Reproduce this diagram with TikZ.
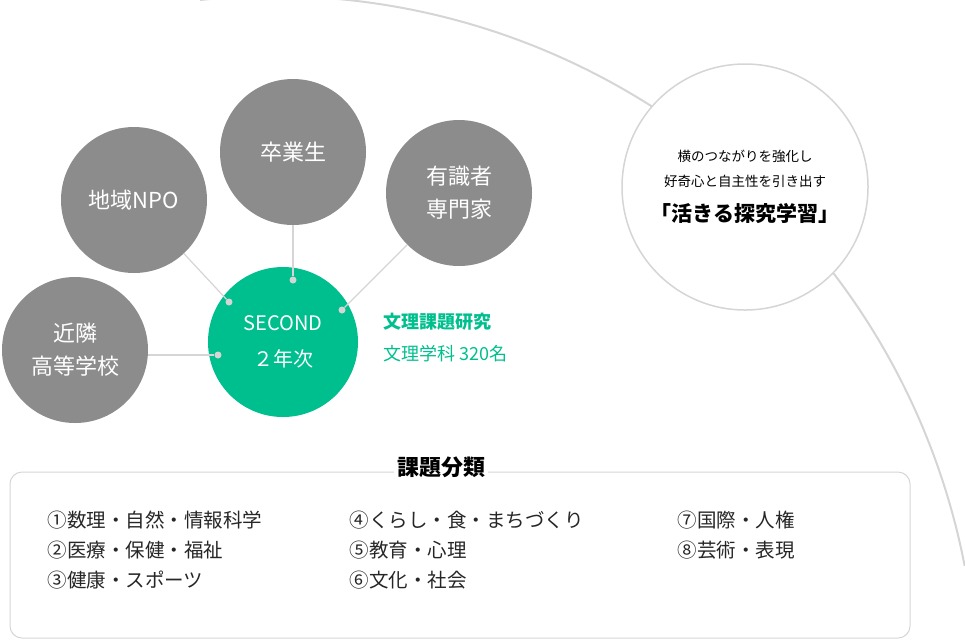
\documentclass[tikz,border=0pt]{standalone}
\usepackage{fontspec}
\setmainfont{Noto Sans CJK JP}
\definecolor{ringgray}{HTML}{8C8C8C}
\definecolor{secgreen}{HTML}{00BF8E}
\definecolor{linegray}{HTML}{D5D5D5}
\begin{document}
\begin{tikzpicture}[x=1pt,y=-1pt,
    partner/.style={circle,fill=ringgray,minimum size=146pt,inner sep=0pt,text=white,font=\fontsize{22}{33}\selectfont,align=center},
    link/.style={linegray,line width=1.2pt},
    tip/.style={circle,fill=linegray,minimum size=7pt,inner sep=0pt},
    item/.style={anchor=west,font=\fontsize{19.5}{22}\selectfont,text=black!85}]
  \useasboundingbox (0,0) rectangle (965,641);

  % outer arc
  \draw[linegray,line width=2pt] (200,0) arc[start angle=-96,end angle=-11,radius=704];

  % message circle
  \node[circle,draw=linegray,line width=1.5pt,fill=white,minimum size=246pt,inner sep=0pt] (msg) at (745,187) {};
  \node[font=\fontsize{13.5}{16}\selectfont] (msga) at (745,156) {横のつながりを強化し};
  \node[font=\fontsize{13.5}{16}\selectfont] (msgb) at (745,181) {好奇心と自主性を引き出す};
  \node[font=\bfseries\fontsize{21}{24}\selectfont] (msgc) at (745,214) {「活きる探究学習」};

  % partners
  \node[partner] (grad) at (293,152) {卒業生};
  \node[partner] (npo) at (134,200) {地域NPO};
  \node[partner] (expert) at (459,193) {有識者\\専門家};
  \node[partner] (school) at (75,350) {近隣\\高等学校};
  \node[circle,fill=secgreen,minimum size=150pt,inner sep=0pt,text=white,align=center,font=\fontsize{20}{36}\selectfont] (second) at (283,342) {SECOND\\２年次};

  % connectors
  \node[tip] (tnpo) at (229,302) {};
  \node[tip] (tgrad) at (293,280) {};
  \node[tip] (texp) at (342,310) {};
  \node[tip] (tsch) at (218,355) {};
  \draw[link] (npo) -- (tnpo);
  \draw[link] (grad) -- (tgrad);
  \draw[link] (expert) -- (texp);
  \draw[link] (school.east |- tsch) -- (tsch);

  \node[anchor=west,text=secgreen,font=\bfseries\fontsize{18}{20}\selectfont] (theme) at (380,322) {文理課題研究};
  \node[anchor=west,text=secgreen,font=\fontsize{18}{20}\selectfont] (dept) at (380,354) {文理学科 320名};

  % categories
  \draw[linegray,line width=1pt,rounded corners=12pt] (10,472) rectangle (910,638);
  \node[fill=white,font=\bfseries\fontsize{22}{24}\selectfont] (cat) at (441,467) {課題分類};
  \node[item] (c1) at (44,520) {①数理・自然・情報科学};
  \node[item] (c2) at (44,550) {②医療・保健・福祉};
  \node[item] (c3) at (44,580) {③健康・スポーツ};
  \node[item] (c4) at (346,520) {④くらし・食・まちづくり};
  \node[item] (c5) at (346,550) {⑤教育・心理};
  \node[item] (c6) at (346,580) {⑥文化・社会};
  \node[item] (c7) at (674,520) {⑦国際・人権};
  \node[item] (c8) at (674,550) {⑧芸術・表現};
\end{tikzpicture}
\end{document}
